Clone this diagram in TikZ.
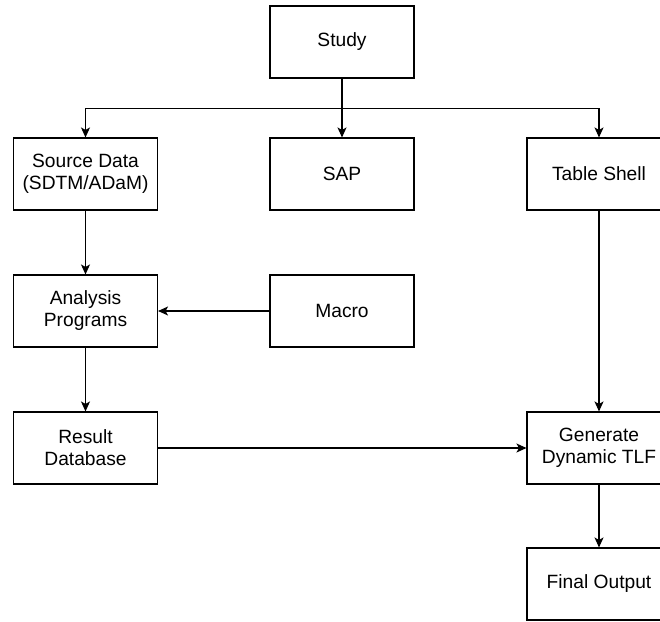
\documentclass[tikz,border=0pt]{standalone}
\usepackage{fontspec}
\setmainfont{Liberation Sans}
\usetikzlibrary{arrows.meta}
\begin{document}
\begin{tikzpicture}[x=1pt,y=-1pt,
  box/.style={draw=black,line width=1.1pt,minimum width=144pt,minimum height=72pt,inner sep=0pt,align=center,
    font=\fontsize{19.2}{22}\selectfont},
  conn/.style={draw=black,line width=1.1pt,-{Stealth[length=10pt,width=9pt,inset=2.5pt]}}]
\useasboundingbox (0,0) rectangle (660,621);
\begin{scope}
\clip (0,0) rectangle (660,621);
\node[box] (study) at (342,42) {Study};
\node[box] (src) at (85.5,174) {Source Data\\(SDTM/ADaM)};
\node[box] (sap) at (342,174) {SAP};
\node[box] (tbl) at (599,174) {Table Shell};
\node[box] (ana) at (85.5,311) {Analysis\\Programs};
\node[box] (mac) at (342,311) {Macro};
\node[box] (res) at (85.5,448) {Result\\Database};
\node[box] (gen) at (599,448) {Generate\\Dynamic TLF};
\node[box] (fin) at (599,584) {Final Output};

\draw[conn] (study.south) -- (sap.north);
\draw[conn] (study.south) -- ++(0,30) -| (src.north);
\draw[conn] (study.south) -- ++(0,30) -| (tbl.north);
\draw[conn] (src.south) -- (ana.north);
\draw[conn] (mac.west) -- (ana.east);
\draw[conn] (ana.south) -- (res.north);
\draw[conn] (tbl.south) -- (gen.north);
\draw[conn] (res.east) -- (gen.west);
\draw[conn] (gen.south) -- (fin.north);
\end{scope}
\end{tikzpicture}
\end{document}
